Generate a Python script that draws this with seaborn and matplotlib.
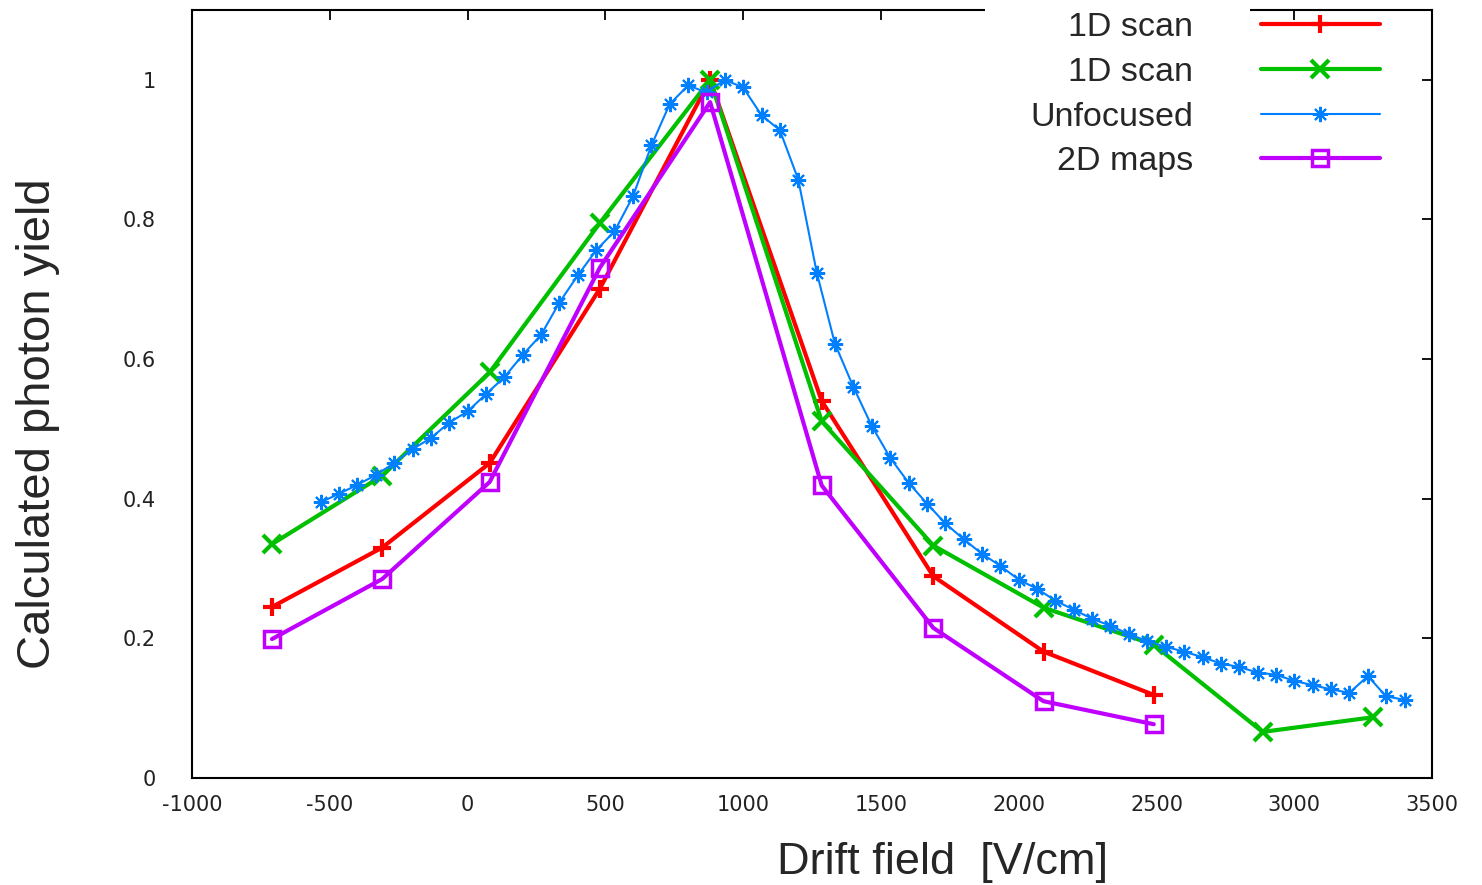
#!/usr/bin/env python3
#
# Calculated photon yield vs drift field
#
import matplotlib
matplotlib.use('Agg')
import matplotlib.pyplot as plt
from matplotlib.patches import Rectangle
from matplotlib.ticker import FuncFormatter, MultipleLocator
import seaborn as sns

# 1D scan (red)
scan1_x = [-710, -310, 80, 480, 880, 1285, 1690, 2090, 2490]
scan1_y = [0.245, 0.330, 0.451, 0.701, 1.0, 0.540, 0.289, 0.181, 0.119]

# 1D scan (green)
scan2_x = [-710, -310, 80, 480, 880, 1285, 1690, 2090, 2490, 2885, 3285]
scan2_y = [0.335, 0.433, 0.581, 0.795, 1.0, 0.511, 0.333, 0.244, 0.191,
           0.066, 0.087]

# Unfocused
unf_x = [-533, -467, -400, -333, -267, -200, -133, -67, 0, 67, 133, 200,
         267, 333, 400, 467, 533, 600, 667, 733, 800, 867, 933, 1000, 1067,
         1133, 1200, 1267, 1333, 1400, 1467, 1533, 1600, 1667, 1733, 1800,
         1867, 1933, 2000, 2067, 2133, 2200, 2267, 2333, 2400, 2467, 2533,
         2600, 2667, 2733, 2800, 2867, 2933, 3000, 3067, 3133, 3200, 3267,
         3333, 3400]
unf_y = [0.395, 0.407, 0.420, 0.434, 0.451, 0.471, 0.487, 0.509, 0.525,
         0.550, 0.574, 0.606, 0.635, 0.681, 0.720, 0.756, 0.783, 0.833,
         0.906, 0.965, 0.992, 0.982, 1.0, 0.989, 0.949, 0.928, 0.857, 0.724,
         0.622, 0.560, 0.504, 0.459, 0.423, 0.393, 0.365, 0.342, 0.321,
         0.304, 0.284, 0.271, 0.254, 0.241, 0.228, 0.218, 0.206, 0.196,
         0.188, 0.181, 0.173, 0.164, 0.159, 0.151, 0.148, 0.139, 0.133,
         0.127, 0.122, 0.146, 0.117, 0.112]

# 2D maps
maps_x = [-710, -310, 80, 480, 880, 1285, 1690, 2090, 2490]
maps_y = [0.199, 0.285, 0.424, 0.731, 0.968, 0.419, 0.215, 0.110, 0.077]

labels = ['1D scan', '1D scan', 'Unfocused', '2D maps']
# gnuplot default line colours
colors = ['#ff0000', '#00c000', '#0080ff', '#c000ff']

sns.set_style('white')
plt.rcParams['font.family'] = ['Liberation Sans', 'DejaVu Sans']

fig = plt.figure(figsize=(14.82, 8.85), dpi=100)
ax = fig.add_axes([0.1296, 0.1209, 0.8367, 0.8678])

thick = {'lw': 3, 'mew': 3, 'markersize': 13}
sns.lineplot(x=scan1_x, y=scan1_y, ax=ax, color=colors[0], marker='+',
             mec=colors[0], label=labels[0], **thick)
sns.lineplot(x=scan2_x, y=scan2_y, ax=ax, color=colors[1], marker='x',
             mec=colors[1], label=labels[1], **thick)
sns.lineplot(x=unf_x, y=unf_y, ax=ax, color=colors[2], marker=(8, 2, 0),
             mec=colors[2], lw=1.5, mew=1.5, markersize=11, label=labels[2])
sns.lineplot(x=maps_x, y=maps_y, ax=ax, color=colors[3], marker='s',
             mfc='none', mec=colors[3], lw=3, mew=2.5, markersize=11,
             label=labels[3])

# Axes
ax.set_xlim(-1000, 3500)
ax.set_ylim(0, 1.1)
ax.xaxis.set_major_locator(MultipleLocator(500))
ax.yaxis.set_major_locator(MultipleLocator(0.2))
fmt = FuncFormatter(lambda v, p: '%g' % round(v, 6))
ax.xaxis.set_major_formatter(fmt)
ax.yaxis.set_major_formatter(fmt)
ax.tick_params(direction='in', length=7, width=1.3, top=True, right=True,
               color='black', labelsize=15, labelcolor='#222222',
               labelfontfamily='DejaVu Sans')
ax.tick_params(axis='x', pad=12)
ax.tick_params(axis='y', pad=26)
for s in ax.spines.values():
    s.set_visible(True)
    s.set_color('black')
    s.set_linewidth(1.5)

ax.set_xlabel('Drift field  [V/cm]', fontsize=32.5)
ax.set_ylabel('Calculated photon yield', fontsize=34)
ax.xaxis.set_label_coords(0.605, -0.083)
ax.yaxis.set_label_coords(-0.1065, 0.4616)

# Legend, text before the line sample
leg = ax.legend(loc='upper right', bbox_to_anchor=(0.958, 0.997),
                frameon=False, markerfirst=False, fontsize=24.5,
                handlelength=3.5, handletextpad=2.0, labelspacing=0.4,
                borderpad=0, borderaxespad=0)
leg.set_zorder(6)

# White box behind the key text hides that part of the top border
ax.add_patch(Rectangle((985 / 1482, 1 - 28 / 885), 265 / 1482, 28 / 885,
                       transform=fig.transFigure, facecolor='white',
                       edgecolor='none', zorder=4, clip_on=False))

fig.savefig('out.png', dpi=100)
